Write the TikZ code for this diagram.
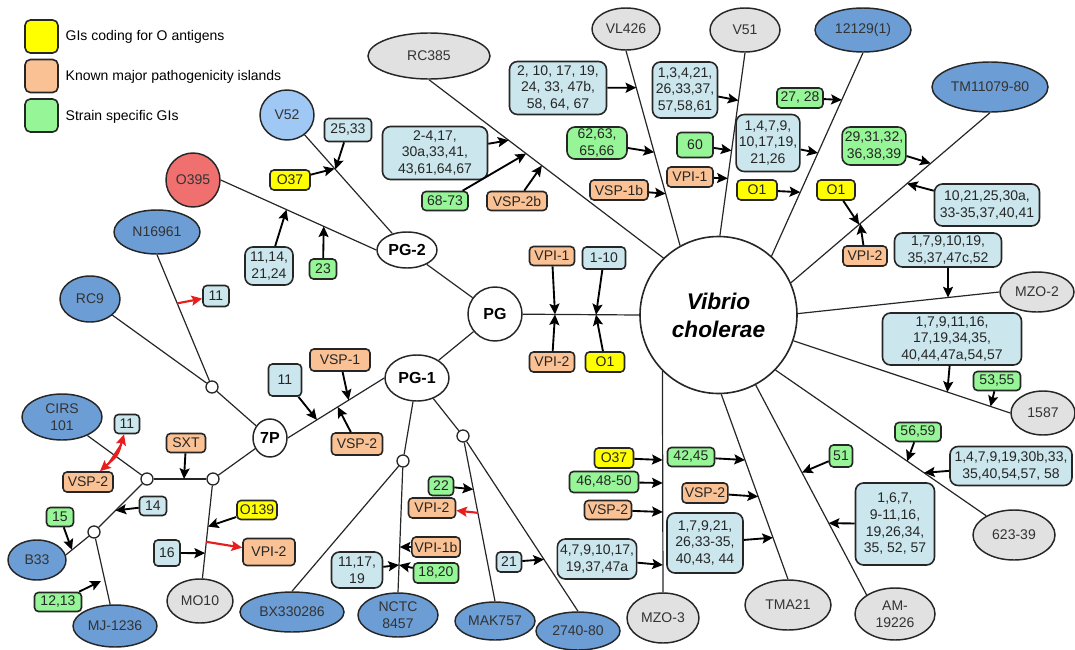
\documentclass[tikz,border=0pt]{standalone}
\usepackage{fontspec}
\setmainfont{Liberation Sans}
\usetikzlibrary{shapes.geometric,arrows.meta,calc}

\definecolor{oyellow}{RGB}{255,255,0}
\definecolor{porange}{RGB}{250,194,148}
\definecolor{sgreen}{RGB}{150,245,150}
\definecolor{lblue}{RGB}{203,230,236}
\definecolor{sblue}{RGB}{108,157,212}
\definecolor{slblue}{RGB}{160,200,245}
\definecolor{sred}{RGB}{240,112,112}
\definecolor{sgray}{RGB}{225,225,225}
\definecolor{rline}{RGB}{232,30,30}

\newcommand{\gisize}{\fontsize{10.5}{12.5}\selectfont}
\newcommand{\hubsize}{\fontsize{12}{14}\selectfont}
\newcommand{\vcsize}{\fontsize{17}{21}\selectfont}

\tikzset{
  sz/.style 2 args={minimum width=#1*0.75pt, minimum height=#2*0.75pt},
  gi/.style={draw=black!85, line width=1.2pt, rounded corners=3pt, inner xsep=2pt,
    inner ysep=1pt, align=center, font=\gisize, text=black!85},
  oant/.style={gi, fill=oyellow},
  pisl/.style={gi, fill=porange},
  ssgi/.style={gi, fill=sgreen},
  gset/.style={gi, fill=lblue},
  rnd/.style={rounded corners=6pt},
  strain/.style={ellipse, draw=black!85, line width=1.1pt, inner sep=0pt,
    align=center, font=\gisize, text=black!80},
  bstrain/.style={strain, fill=sblue},
  gstrain/.style={strain, fill=sgray},
  hub/.style={ellipse, draw=black!85, fill=white, line width=1.1pt, inner sep=0pt,
    font=\hubsize\bfseries},
  junc/.style={circle, draw=black!85, fill=white, line width=1pt,
    minimum size=9pt, inner sep=0pt},
  link/.style={draw=black!85, line width=0.9pt},
  arr/.style={-{Stealth[length=8pt,width=7.5pt,inset=1.5pt]}, line width=1.4pt},
  rarr/.style={arr, draw=rline, fill=rline, line width=1.6pt},
  rdarr/.style={{Stealth[length=8pt,width=7.5pt,inset=1.5pt]}-{Stealth[length=8pt,width=7.5pt,inset=1.5pt]},
    line width=1.6pt, draw=rline, fill=rline}
}

\begin{document}
\begin{tikzpicture}[x=0.75pt, y=-0.75pt]
\useasboundingbox (0,0) rectangle (1075,650);

% legend
\node[oant, sz={33}{33}, rounded corners=4pt] (lyel) at (41.5,36.5) {};
\node[pisl, sz={33}{33}, rounded corners=4pt] (lora) at (41.5,76) {};
\node[ssgi, sz={33}{33}, rounded corners=4pt] (lgre) at (41.5,115.5) {};
\node[anchor=west, font=\gisize] (tyel) at (61,37) {GIs coding for O antigens};
\node[anchor=west, font=\gisize] (tora) at (61,77) {Known major pathogenicity islands};
\node[anchor=west, font=\gisize] (tgre) at (61,117) {Strain specific GIs};

% hubs
\node[circle, draw=black!85, fill=white, line width=1.2pt, minimum size=157*0.75pt,
  inner sep=0pt, align=center, font=\vcsize\bfseries\itshape] (VC) at (718.5,315) {Vibrio\\cholerae};
\node[hub, circle, sz={54}{54}] (PG) at (495,314) {PG};
\node[hub, sz={60}{36}] (PG2) at (407,250) {PG-2};
\node[hub, sz={64}{46}] (PG1) at (417,378) {PG-1};
\node[hub, sz={34}{38}] (P7) at (270,438) {7P};
\node[junc] (j1) at (212,387) {};
\node[junc] (j2) at (213,479) {};
\node[junc] (j3) at (147,479) {};
\node[junc] (j4) at (94,532) {};
\node[junc] (j5) at (403,461) {};
\node[junc] (j6) at (463,436) {};

% strains
\node[strain, fill=slblue, sz={54}{50}] (V52) at (287,115) {V52};
\node[strain, fill=sred, sz={54}{54}] (O395) at (193,180) {O395};
\node[bstrain, sz={86}{44}] (N16961) at (157,232) {N16961};
\node[bstrain, sz={60}{46}] (RC9) at (90,299) {RC9};
\node[bstrain, sz={80}{46}] (CIRS) at (62,417) {CIRS\\101};
\node[bstrain, sz={58}{40}] (B33) at (37,560) {B33};
\node[bstrain, sz={84}{42}] (MJ) at (115,626) {MJ-1236};
\node[gstrain, sz={66}{44}] (MO10) at (200,601) {MO10};
\node[bstrain, sz={104}{40}] (BX) at (292,612) {BX330286};
\node[bstrain, sz={80}{44}] (NCTC) at (398,615) {NCTC\\8457};
\node[bstrain, sz={80}{38}] (MAK) at (495,621) {MAK757};
\node[bstrain, sz={84}{38}] (N2740) at (578,631) {2740-80};
\node[gstrain, sz={72}{50}] (MZO3) at (663,618) {MZO-3};
\node[gstrain, sz={86}{50}] (TMA) at (788,605) {TMA21};
\node[gstrain, sz={80}{52}] (AM) at (895,614) {AM-\\19226};
\node[gstrain, sz={82}{50}] (N62339) at (1014,535) {623-39};
\node[gstrain, sz={64}{44}] (N1587) at (1043,413) {1587};
\node[gstrain, sz={74}{40}] (MZO2) at (1037,292) {MZO-2};
\node[bstrain, sz={116}{50}] (TM) at (990,87) {TM11079-80};
\node[bstrain, sz={96}{44}] (N12129) at (863,30) {12129(1)};
\node[gstrain, sz={70}{44}] (V51) at (745,30) {V51};
\node[gstrain, sz={68}{42}] (VL426) at (626,29) {VL426};
\node[gstrain, sz={122}{46}] (RC385) at (429,56) {RC385};

% tree
\draw[link] (VC.180) -- (PG);
\draw[link] (PG) -- (PG2);
\draw[link] (PG) -- (PG1);
\draw[link] (PG2) -- (V52);
\draw[link] (PG2.west) -- (O395.east);
\draw[link] (PG1.west) -- (P7.east);
\draw[link] (PG1) -- (j5);
\draw[link] (PG1) -- (j6);
\draw[link] (P7) -- (j1);
\draw[link] (P7) -- (j2);
\draw[link] (j1) -- (N16961.south);
\draw[link] (j1) -- (RC9);
\draw[link] (j2) -- (j3);
\draw[link] (j2) -- (MO10);
\draw[link] (j3) -- (CIRS);
\draw[link] (j3) -- (j4);
\draw[link] (j4) -- (B33.10);
\draw[link] (j4) -- (MJ);
\draw[link] (j5) -- (BX.north);
\draw[link] (j5) -- (NCTC.north);
\draw[link] (j6) -- (MAK.north);
\draw[link] (j6) -- (N2740.north);
\draw[link] (VC.134) -- (RC385.south);
\draw[link] (VC.119) -- (VL426.south);
\draw[link] (VC.89) -- (V51.south);
\draw[link] (VC.48) -- (N12129.south);
\draw[link] (VC.24) -- (TM.south);
\draw[link] (VC.1) -- (MZO2.west);
\draw[link] (VC.-19) -- (N1587.west);
\draw[link] (VC.-44) -- (N62339);
\draw[link] (VC.-62) -- (AM.146);
\draw[link] (VC.-88) -- (TMA.north);
\draw[link] (VC.-135) -- (MZO3.north);

% islands
\node[gset, sz={47}{23}] (g2533) at (348,130) {25,33};
\node[oant, sz={40}{20}] (o37a) at (290,180) {O37};
\node[gset, rnd, sz={48}{38}] (g1114) at (269,266) {11,14,\\21,24};
\node[ssgi, sz={27}{20}] (s23) at (323,269) {23};
\node[gset, rnd, sz={105}{53}] (g24) at (435,153) {2-4,17,\\30a,33,41,\\43,61,64,67};
\node[ssgi, sz={46}{19}] (s6873) at (445,201) {68-73};
\node[pisl, sz={60}{19}] (vsp2b) at (517,201) {VSP-2b};
\node[gset, rnd, sz={97}{53}] (g210) at (558,88) {2, 10, 17, 19,\\24, 33, 47b,\\58, 64, 67};
\node[ssgi, rnd, sz={60}{32}] (s6263) at (597,143) {62,63,\\65,66};
\node[pisl, sz={58}{20}] (vsp1b) at (619,190) {VSP-1b};
\node[gset, rnd, sz={65}{56}] (g134) at (685,90) {1,3,4,21,\\26,33,37,\\57,58,61};
\node[ssgi, sz={36}{25}] (s60) at (695,145) {60};
\node[pisl, sz={46}{20}] (vpi1a) at (690,177) {VPI-1};
\node[ssgi, sz={46}{20}] (s2728) at (800,98) {27, 28};
\node[gset, rnd, sz={62}{57}] (g147) at (768,143) {1,4,7,9,\\10,17,19,\\21,26};
\node[oant, sz={40}{20}] (o1a) at (757,190) {O1};
\node[oant, sz={38}{20}] (o1b) at (836,190) {O1};
\node[ssgi, rnd, sz={62}{38}] (s2931) at (874,146) {29,31,32,\\36,38,39};
\node[gset, rnd, sz={105}{42}] (g1021) at (987,205) {10,21,25,30a,\\33-35,37,40,41};
\node[pisl, sz={44}{20}] (vpi2a) at (865,256) {VPI-2};
\node[gset, rnd, sz={107}{34}] (g179) at (948,250) {1,7,9,10,19,\\35,37,47c,52};
\node[gset, rnd, sz={139}{52}] (g1711) at (952,339) {1,7,9,11,16,\\17,19,34,35,\\40,44,47a,54,57};
\node[ssgi, sz={47}{19}] (s5355) at (997,381) {53,55};
\node[ssgi, sz={46}{19}] (s5659) at (918,432) {56,59};
\node[gset, rnd, sz={122}{39}] (g1479) at (1011,466) {1,4,7,9,19,30b,33,\\35,40,54,57, 58};
\node[ssgi, sz={23}{22}] (s51) at (841,456) {51};
\node[gset, rnd, sz={79}{82}] (g167) at (895,524) {1,6,7,\\9-11,16,\\19,26,34,\\35, 52, 57};
\node[oant, sz={39}{20}] (o37b) at (614,458) {O37};
\node[ssgi, sz={69}{21}] (s4648) at (604,482) {46,48-50};
\node[pisl, sz={47}{19}] (vsp2c) at (608,510) {VSP-2};
\node[gset, rnd, sz={79}{40}] (g4791) at (597,559) {4,7,9,10,17,\\19,37,47a};
\node[ssgi, sz={47}{19}] (s4245) at (691,457) {42,45};
\node[pisl, sz={44}{20}] (vsp2d) at (705,493) {VSP-2};
\node[gset, rnd, sz={76}{60}] (g1792) at (705,543) {1,7,9,21,\\26,33-35,\\40,43, 44};
\node[ssgi, sz={25}{19}] (s22) at (441,486) {22};
\node[pisl, sz={47}{20}] (vpi2b) at (432,508) {VPI-2};
\node[pisl, sz={45}{20}] (vpi1b) at (436,547) {VPI-1b};
\node[gset, rnd, sz={51}{36}] (g1117) at (357,570) {11,17,\\19};
\node[ssgi, sz={45}{20}] (s1820) at (436,573) {18,20};
\node[gset, sz={25}{20}] (g21) at (509,562) {21};
\node[gset, sz={26}{21}] (g11a) at (216,296) {11};
\node[gset, sz={33}{32}] (g11b) at (285,380) {11};
\node[pisl, sz={60}{22}] (vsp1) at (340,360) {VSP-1};
\node[pisl, sz={51}{22}] (vsp2e) at (357,444) {VSP-2};
\node[gset, sz={25}{19}] (g11c) at (127,424) {11};
\node[pisl, sz={50}{20}] (vsp2f) at (88,482) {VSP-2};
\node[pisl, sz={39}{19}] (sxt) at (186,443) {SXT};
\node[gset, sz={27}{19}] (g14) at (153,506) {14};
\node[ssgi, sz={27}{19}] (s15) at (60,517) {15};
\node[ssgi, sz={47}{19}] (s1213) at (58,602) {12,13};
\node[oant, sz={40}{19}] (o139) at (257,510) {O139};
\node[gset, sz={26}{26}] (g16) at (167,553) {16};
\node[pisl, sz={52}{27}] (vpi2c) at (269,552) {VPI-2};
\node[pisl, sz={45}{19}] (vpi1c) at (552,256) {VPI-1};
\node[gset, sz={43}{22}] (g110) at (604,258) {1-10};
\node[pisl, sz={45}{20}] (vpi2d) at (552,362) {VPI-2};
\node[oant, sz={39}{20}] (o1c) at (605,362) {O1};

% where the arrows hit the branches
\coordinate (tA1) at ($(V52)!(337,168)!(PG2)$);
\coordinate (tA2) at ($(V52)!(333,170)!(PG2)$);
\coordinate (tB1) at ($(O395.east)!(285,213)!(PG2.west)$);
\coordinate (tB2) at ($(O395.east)!(323,228)!(PG2.west)$);
\coordinate (tC1) at ($(VC.134)!(508,141)!(RC385.south)$);
\coordinate (tC2) at ($(VC.134)!(525,155)!(RC385.south)$);
\coordinate (tC3) at ($(VC.134)!(540,168)!(RC385.south)$);
\coordinate (tD1) at ($(VC.119)!(635,88)!(VL426.south)$);
\coordinate (tD2) at ($(VC.119)!(655,152)!(VL426.south)$);
\coordinate (tD3) at ($(VC.119)!(668,193)!(VL426.south)$);
\coordinate (tE1) at ($(VC.89)!(735,100)!(V51.south)$);
\coordinate (tE2) at ($(VC.89)!(727,150)!(V51.south)$);
\coordinate (tE3) at ($(VC.89)!(725,178)!(V51.south)$);
\coordinate (tF1) at ($(VC.48)!(842,100)!(N12129.south)$);
\coordinate (tF2) at ($(VC.48)!(818,153)!(N12129.south)$);
\coordinate (tF3) at ($(VC.48)!(802,193)!(N12129.south)$);
\coordinate (tG1) at ($(VC.24)!(932,165)!(TM.south)$);
\coordinate (tG2) at ($(VC.24)!(910,187)!(TM.south)$);
\coordinate (tG3) at ($(VC.24)!(857,222)!(TM.south)$);
\coordinate (tG4) at ($(VC.24)!(864,228)!(TM.south)$);
\coordinate (tH1) at ($(VC.1)!(948,297)!(MZO2.west)$);
\coordinate (tI1) at ($(VC.-19)!(947,393)!(N1587.west)$);
\coordinate (tI2) at ($(VC.-19)!(990,408)!(N1587.west)$);
\coordinate (tJ1) at ($(VC.-44)!(908,460)!(N62339)$);
\coordinate (tJ2) at ($(VC.-44)!(924,473)!(N62339)$);
\coordinate (tK1) at ($(VC.-62)!(803,472)!(AM.146)$);
\coordinate (tK2) at ($(VC.-62)!(829,523)!(AM.146)$);
\coordinate (tL1) at ($(VC.-88)!(745,460)!(TMA.north)$);
\coordinate (tL2) at ($(VC.-88)!(757,497)!(TMA.north)$);
\coordinate (tL3) at ($(VC.-88)!(772,538)!(TMA.north)$);
\coordinate (tM1) at ($(VC.-135)!(663,460)!(MZO3.north)$);
\coordinate (tM2) at ($(VC.-135)!(663,483)!(MZO3.north)$);
\coordinate (tM3) at ($(VC.-135)!(663,512)!(MZO3.north)$);
\coordinate (tM4) at ($(VC.-135)!(663,565)!(MZO3.north)$);
\coordinate (tN1) at ($(VC.180)!(555,315)!(PG)$);
\coordinate (tN2) at ($(VC.180)!(596,315)!(PG)$);
\coordinate (tP1) at ($(j6)!(470,490)!(MAK.north)$);
\coordinate (tP2) at ($(j6)!(477,513)!(MAK.north)$);
\coordinate (tP3) at ($(j6)!(540,562)!(N2740.north)$);
\coordinate (tQ1) at ($(j5)!(400,547)!(NCTC.north)$);
\coordinate (tQ2) at ($(j5)!(400,565)!(NCTC.north)$);
\coordinate (tR1) at ($(P7.east)!(317,420)!(PG1.west)$);
\coordinate (tR2) at ($(P7.east)!(348,399)!(PG1.west)$);
\coordinate (tR3) at ($(P7.east)!(339,409)!(PG1.west)$);
\coordinate (tS1) at ($(j1)!(178,303)!(N16961.south)$);
\coordinate (tS2) at ($(j3)!(184,477)!(j2)$);
\coordinate (tS3) at ($(j3)!(115,510)!(j4)$);
\coordinate (tS4) at ($(j4)!(72,550)!(B33.10)$);
\coordinate (tS5) at (101,581);
\coordinate (tT1) at ($(j2)!(212,527)!(MO10)$);
\coordinate (tT2) at ($(j2)!(204,553)!(MO10)$);
\coordinate (tT3) at ($(j2)!(208,542)!(MO10)$);

% arrows
\draw[arr] (g2533) -- (tA1);
\draw[arr] (o37a) -- (tA2);
\draw[arr] (g1114) -- (tB1);
\draw[arr] (s23) -- (tB2);
\draw[arr] (g24) -- (tC1);
\draw[arr] (s6873) -- (tC2);
\draw[arr] (vsp2b) -- (tC3);
\draw[arr] (g210) -- (tD1);
\draw[arr] (s6263) -- (tD2);
\draw[arr] (vsp1b) -- (tD3);
\draw[arr] (g134) -- (tE1);
\draw[arr] (s60) -- (tE2);
\draw[arr] (vpi1a) -- (tE3);
\draw[arr] (s2728) -- (tF1);
\draw[arr] (g147) -- (tF2);
\draw[arr] (o1a) -- (tF3);
\draw[arr] (s2931) -- (tG1);
\draw[arr] (g1021) -- (tG2);
\draw[arr] (o1b) -- (tG3);
\draw[arr] (vpi2a) -- (tG4);
\draw[arr] (g179) -- (tH1);
\draw[arr] (g1711) -- (tI1);
\draw[arr] (s5355) -- (tI2);
\draw[arr] (s5659) -- (tJ1);
\draw[arr] (g1479) -- (tJ2);
\draw[arr] (s51) -- (tK1);
\draw[arr] (g167) -- (tK2);
\draw[arr] (s4245) -- (tL1);
\draw[arr] (vsp2d) -- (tL2);
\draw[arr] (g1792) -- (tL3);
\draw[arr] (o37b) -- (tM1);
\draw[arr] (s4648) -- (tM2);
\draw[arr] (vsp2c) -- (tM3);
\draw[arr] (g4791) -- (tM4);
\draw[arr] (vpi1c) -- (tN1);
\draw[arr] (vpi2d) -- (tN1);
\draw[arr] (g110) -- (tN2);
\draw[arr] (o1c) -- (tN2);
\draw[arr] (s22) -- (tP1);
\draw[rarr] (tP2) -- (vpi2b);
\draw[arr] (g21) -- (tP3);
\draw[arr] (vpi1b) -- (tQ1);
\draw[arr] (g1117) -- (tQ2);
\draw[arr] (s1820) -- (tQ2);
\draw[arr] (g11b) -- (tR1);
\draw[arr] (vsp1) -- (tR2);
\draw[arr] (vsp2e) -- (tR3);
\draw[rarr] (tS1) -- (g11a);
\draw[rdarr] (g11c) .. controls (118,455) .. (vsp2f);
\draw[arr] (sxt) -- (tS2);
\draw[arr] (g14) -- (tS3);
\draw[arr] (s15) -- (tS4);
\draw[arr] (s1213) -- (tS5);
\draw[arr] (o139) -- (tT1);
\draw[arr] (g16) -- (tT2);
\draw[rarr] (tT3) -- (vpi2c);
\end{tikzpicture}
\end{document}
